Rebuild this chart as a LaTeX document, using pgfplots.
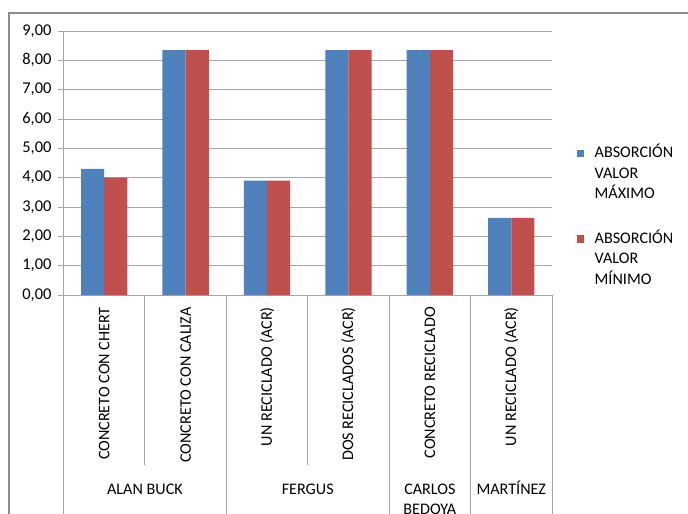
\documentclass[border=0pt]{standalone}
\usepackage{pgfplots}
\pgfplotsset{compat=1.18}
\usepackage{fontspec}
\setmainfont{Carlito}

\definecolor{serieA}{HTML}{4F81BD}
\definecolor{serieB}{HTML}{C0504D}
\definecolor{gridgray}{HTML}{A6A6A6}
\definecolor{framegray}{HTML}{8C8C8C}

\newcommand\lblfont{\fontsize{16.2}{20.5}\selectfont}

\begin{document}
\lblfont
\begin{tikzpicture}[lbl/.style={font=\lblfont}]
\useasboundingbox (0,0) rectangle (688bp,-514bp);
\clip (0,0) rectangle (688bp,-514bp);
% outer chart frame
\draw[framegray, line width=1.2bp] (9bp,-520bp) -- (9bp,-13bp) -- (700bp,-13bp);
\begin{axis}[
  at={(63.5bp,-295bp)}, anchor=south west,
  scale only axis, width=488.5bp, height=264bp,
  ymin=0, ymax=9, ytick={0,1,...,9},
  xmin=0, xmax=6, xtick=\empty,
  axis x line=bottom, axis y line=left,
  axis line style={draw=gridgray, line width=0.9bp, -},
  ymajorgrids, grid style={gridgray, line width=0.9bp},
  ytick style={gridgray, line width=0.9bp},
  tick align=outside, major tick length=5.5bp,
  yticklabel style={font=\fontsize{16.5}{20}\selectfont, xshift=-1bp},
  /pgf/number format/.cd, fixed, fixed zerofill, precision=2, use comma, assume math mode=true,
  /pgfplots/.cd,
  ybar=0pt, bar width=23.2bp,
  clip=false,
  legend style={draw=none, fill=none, at={(1.045,0.585)}, anchor=north west,
    font=\lblfont,
    nodes={align=left, anchor=base west, inner sep=1.5bp},
    row sep=26bp, cells={anchor=base west},
    /tikz/every odd column/.append style={column sep=9bp}},
  % the swatch sits beside the first of the three lines of each entry
  legend image code/.code={\fill[#1] (0.5bp,41.5bp) rectangle (7.5bp,49bp);},
]
\addplot[fill=serieA, draw=none] coordinates {(0.5,4.30) (1.5,8.35) (2.5,3.90) (3.5,8.35) (4.5,8.35) (5.5,2.63)};
\addplot[fill=serieB, draw=none] coordinates {(0.5,4.00) (1.5,8.35) (2.5,3.90) (3.5,8.35) (4.5,8.35) (5.5,2.63)};
\legend{{ABSORCIÓN\\VALOR\\MÁXIMO},{ABSORCIÓN\\VALOR\\MÍNIMO}}

% category separators below the axis
\draw[gridgray, line width=0.9bp] (axis cs:1,0) -- ++(0,-170bp);
\draw[gridgray, line width=0.9bp] (axis cs:3,0) -- ++(0,-170bp);
\draw[gridgray, line width=0.9bp] (axis cs:0,0) -- ++(0,-240bp);
\draw[gridgray, line width=0.9bp] (axis cs:2,0) -- ++(0,-240bp);
\draw[gridgray, line width=0.9bp] (axis cs:4,0) -- ++(0,-240bp);
\draw[gridgray, line width=0.9bp] (axis cs:5,0) -- ++(0,-240bp);
\draw[gridgray, line width=0.9bp] (axis cs:6,0) -- ++(0,-240bp);

% first-level category labels
\node[lbl, rotate=90, anchor=east, inner sep=0pt] at ([yshift=-12bp]axis cs:0.5,0) {CONCRETO CON CHERT};
\node[lbl, rotate=90, anchor=east, inner sep=0pt] at ([yshift=-12bp]axis cs:1.5,0) {CONCRETO CON CALIZA};
\node[lbl, rotate=90, anchor=east, inner sep=0pt] at ([yshift=-12bp]axis cs:2.5,0) {UN RECICLADO (ACR)};
\node[lbl, rotate=90, anchor=east, inner sep=0pt] at ([yshift=-12bp]axis cs:3.5,0) {DOS RECICLADOS (ACR)};
\node[lbl, rotate=90, anchor=east, inner sep=0pt] at ([yshift=-12bp]axis cs:4.5,0) {CONCRETO RECICLADO};
\node[lbl, rotate=90, anchor=east, inner sep=0pt] at ([yshift=-12bp]axis cs:5.5,0) {UN RECICLADO (ACR)};

% second-level group labels
\node[lbl, anchor=base, inner sep=0pt] at ([yshift=-199bp]axis cs:1,0) {ALAN BUCK};
\node[lbl, anchor=base, inner sep=0pt] at ([yshift=-199bp]axis cs:3,0) {FERGUS};
\node[lbl, anchor=base, inner sep=0pt, align=center] at ([yshift=-219.5bp]axis cs:4.5,0) {CARLOS\\BEDOYA};
\node[lbl, anchor=base, inner sep=0pt] at ([yshift=-199bp]axis cs:5.5,0) {MARTÍNEZ};
\end{axis}
\end{tikzpicture}
\end{document}
